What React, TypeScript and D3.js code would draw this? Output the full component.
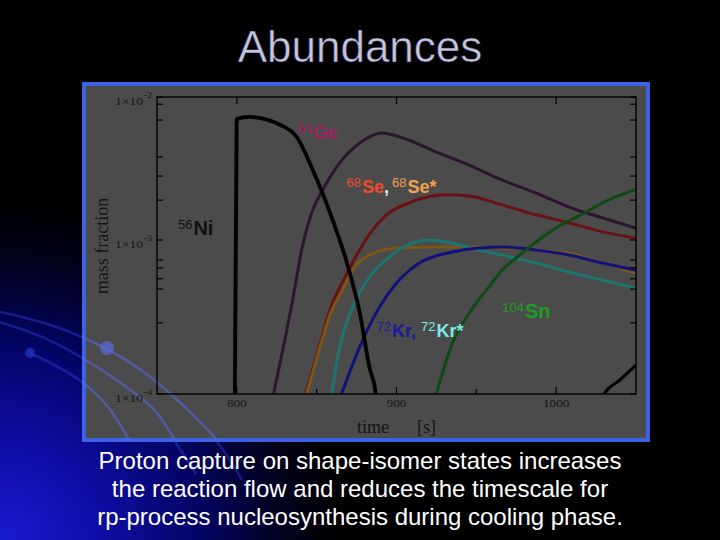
import React from 'react';
import * as d3 from 'd3';

type Pt = [number, number];

// time [s], mass fraction
const ge64: Pt[] = [[823, 1e-4], [835, 4.1e-4], [840.6, 8.6e-4], [847.5, 1.62e-3], [853.8, 2.24e-3], [864.4, 3.46e-3], [877, 4.77e-3], [891, 5.6e-3], [904, 5.17e-3], [925, 4.12e-3], [945.6, 3.34e-3], [966, 2.63e-3], [987.5, 2.13e-3], [1008, 1.7e-3], [1029, 1.43e-3], [1050, 1.21e-3]];
const se68: Pt[] = [[843.1, 1e-4], [851.9, 2.08e-4], [859.4, 3.78e-4], [867.5, 5.66e-4], [874.4, 7.76e-4], [881.9, 1.05e-3], [893.8, 1.5e-3], [908, 1.82e-3], [931, 2.07e-3], [945.6, 2.03e-3], [966, 1.76e-3], [987.5, 1.5e-3], [1008, 1.32e-3], [1029, 1.14e-3], [1050, 1.03e-3]];
const se68s: Pt[] = [[843.8, 1e-4], [852.5, 2.08e-4], [858.8, 3.36e-4], [866.3, 4.73e-4], [873.8, 6.68e-4], [878.1, 7.41e-4], [889.4, 8.49e-4], [902, 8.87e-4], [933, 9.0e-4], [966, 8.87e-4], [989, 8.6e-4], [1008, 8.2e-4], [1029, 7.1e-4], [1050, 6.1e-4]];
const kr72s: Pt[] = [[859.4, 1e-4], [864.4, 2.02e-4], [872.5, 3.67e-4], [883.1, 5.75e-4], [895.6, 7.76e-4], [910, 9.57e-4], [920.6, 1.0e-3], [931.3, 9.7e-4], [951.9, 8.61e-4], [987.5, 7.09e-4], [1008, 6.2e-4], [1029, 5.5e-4], [1050, 4.85e-4]];
const kr72: Pt[] = [[865.6, 1e-4], [878.8, 2.24e-4], [889.4, 3.67e-4], [900, 5.26e-4], [914.4, 7.09e-4], [935, 8.36e-4], [951.9, 8.87e-4], [967.5, 9.0e-4], [987.5, 8.61e-4], [1008, 8.0e-4], [1029, 7.09e-4], [1050, 6.35e-4]];
const sn104: Pt[] = [[925, 1e-4], [935, 2.14e-4], [945.6, 3.36e-4], [956.3, 4.73e-4], [966.3, 6.38e-4], [978.8, 8.24e-4], [997.5, 1.17e-3], [1018.8, 1.57e-3], [1028.8, 1.82e-3], [1050, 2.26e-3]];
const ni56: Pt[] = [[798.7, 8e-5], [799.9, 7.0e-3], [808, 7.25e-3], [817.5, 7.0e-3], [827, 6.4e-3], [837.5, 5.25e-3], [847.5, 3.1e-3], [860, 1.38e-3], [868.8, 7.2e-4], [877, 3.36e-4], [883, 1.5e-4], [887, 1e-4], [888, 8e-5]];
const lateBlack: Pt[] = [[1029, 9e-5], [1030, 1e-4], [1039.4, 1.22e-4], [1050, 1.54e-4]];

const seriesData: Pt[][] = [ge64, se68, se68s, kr72s, kr72, sn104, ni56, lateBlack];
const seriesColors = ['#2d1430', '#6a1212', '#7c5618', '#1d7571', '#12127a', '#0f4a14', '#000000', '#000000'];
const seriesWidths = [3, 3, 3, 3, 3, 3, 3.8, 3];

const xMajorTicks = [800, 900, 1000];
const xMinorTicks = [850, 950];
const xTickLabels = ['800', '900', '1000'];
const yMajorTicks = [1e-2, 1e-3, 1e-4];
const yTickExponents = ['-2', '-3', '-4'];
const yMinorTicks = [8.9e-3, 6.9e-3, 3.8e-3, 2.8e-3, 1.9e-3, 7.4e-4, 6.6e-4, 5.6e-4, 4.8e-4, 2.9e-4];

const captionLines = [
  'Proton capture on shape-isomer states increases',
  'the reaction flow and reduces the timescale for',
  'rp-process nucleosynthesis during cooling phase.',
];

const SANS = '"Liberation Sans", Arial, sans-serif';
const SERIF = '"Liberation Serif", "Times New Roman", serif';

export default function App() {
  const x = d3.scaleLinear().domain([750, 1050]).range([157, 636]);
  const y = d3.scaleLog().domain([1e-2, 1e-3, 1e-4]).range([97, 240, 394]);
  const line = d3.line<Pt>().x(d => x(d[0])).y(d => y(d[1])).curve(d3.curveMonotoneX);
  const [x0, x1] = x.range();
  const yTop = y(1e-2), yBot = y(1e-4);

  const sup = { fontSize: 13, fontWeight: 400 as const };
  const main = (s: number) => ({ fontSize: s, fontWeight: 700 as const });

  return (
    <svg width={720} height={540} style={{ position: 'absolute', left: 0, top: 0, display: 'block' }}>
      <defs>
        <radialGradient id="bg" gradientUnits="userSpaceOnUse" cx={0} cy={545} r={340}>
          <stop offset="0" stopColor="#1a1ad2" />
          <stop offset="0.3" stopColor="#0d0da6" />
          <stop offset="0.6" stopColor="#040462" />
          <stop offset="0.82" stopColor="#010120" />
          <stop offset="1" stopColor="#000000" />
        </radialGradient>
        <clipPath id="plotclip">
          <rect x={x0} y={yTop} width={x1 - x0} height={yBot - yTop} />
        </clipPath>
      </defs>
      <rect x={0} y={0} width={720} height={540} fill="#000" />
      <rect x={0} y={0} width={720} height={540} fill="url(#bg)" />

      {/* decorative arcs outside */}
      <g fill="none" stroke="#2a3ad0" strokeWidth={2.5} opacity={0.5}>
        <path d="M -5,311 C 30,318 60,327 84,338" />
        <path d="M -5,321 C 30,330 60,344 84,359" />
        <path d="M 30,353 C 50,362 68,372 84,383" />
        <path d="M 217,442 C 225,452 235,468 242,480" />
        <path d="M 175,442 C 182,452 190,464 196,474" />
      </g>
      <circle cx={30} cy={353} r={5} fill="#2030c0" opacity={0.8} />

      <text x={360} y={62} textAnchor="middle" fontFamily={SANS} fontSize={44} fill="#c6c6d6" stroke="#10104a" strokeWidth={0.6}>Abundances</text>

      {/* panel */}
      <rect x={84} y={84} width={564} height={356} fill="#4b4b4b" stroke="#3d63e4" strokeWidth={4} />
      <g fill="none" stroke="#5a68d8" strokeWidth={2.5} opacity={0.6}>
        <path d="M 82,337 C 100,345 125,358 145,373 S 195,415 217,440" />
        <path d="M 82,358 C 100,368 120,382 140,397 S 165,425 175,440" />
        <path d="M 82,382 C 95,392 108,405 116,418 S 126,434 129,440" />
      </g>
      <circle cx={107} cy={348} r={7} fill="#5a68d0" opacity={0.75} />

      {/* curves */}
      <g clipPath="url(#plotclip)" fill="none" strokeLinejoin="round">
        {seriesData.map((s, i) => (
          <path key={i} d={line(s) ?? ''} stroke={seriesColors[i]} strokeWidth={seriesWidths[i]} />
        ))}
      </g>

      {/* axes frame */}
      <rect x={x0} y={yTop} width={x1 - x0} height={yBot - yTop} fill="none" stroke="#000" strokeWidth={1.4} />
      <g stroke="#000" strokeWidth={1.2}>
        {yMajorTicks.concat(yMinorTicks).map((v, i) => (
          <g key={i}>
            <line x1={x0} x2={x0 + 6} y1={y(v)} y2={y(v)} />
            <line x1={x1} x2={x1 - 6} y1={y(v)} y2={y(v)} />
          </g>
        ))}
        {xMajorTicks.map((t, i) => (
          <g key={i}>
            <line x1={x(t)} x2={x(t)} y1={yBot} y2={yBot - 7} />
            <line x1={x(t)} x2={x(t)} y1={yTop} y2={yTop + 7} />
          </g>
        ))}
        {xMinorTicks.map((t, i) => (
          <line key={i} x1={x(t)} x2={x(t)} y1={yBot} y2={yBot - 5} />
        ))}
      </g>

      {/* tick labels */}
      <g fontFamily={SERIF} fill="#151515">
        {yMajorTicks.map((v, i) => (
          <g key={i}>
            <text x={115} y={y(v) + 8} fontSize={11} textLength={28} lengthAdjust="spacingAndGlyphs">1×10</text>
            <text x={144} y={y(v) + 1} fontSize={8} textLength={8} lengthAdjust="spacingAndGlyphs">{yTickExponents[i]}</text>
          </g>
        ))}
        {xMajorTicks.map((t, i) => (
          <text key={i} x={x(t)} y={yBot + 13} fontSize={10.5} textAnchor="middle" textLength={xTickLabels[i].length * 6.6} lengthAdjust="spacingAndGlyphs">{xTickLabels[i]}</text>
        ))}
        <text x={357} y={433} fontSize={18}>time</text>
        <text x={417} y={433} fontSize={18}>[s]</text>
        <text transform="translate(108,246) rotate(-90)" textAnchor="middle" fontSize={18}>mass fraction</text>
      </g>

      {/* nuclide labels */}
      <g fontFamily={SANS}>
        <text x={x(838.1)} y={y(5.08e-3)}>
          <tspan {...sup} dy={-6} fill="#a3205f">64</tspan>
          <tspan {...main(18)} dy={6} dx={1} fill="#a3205f">Ge</tspan>
        </text>
        <text x={x(868.75)} y={y(2.13e-3)}>
          <tspan {...sup} dy={-6} fill="#ee4b2b">68</tspan>
          <tspan {...main(18)} dy={6} dx={1} fill="#ee4b2b">Se</tspan>
          <tspan {...main(18)} fill="#e8e8e8">,</tspan>
          <tspan {...sup} dx={3} dy={-6} fill="#f0a050">68</tspan>
          <tspan {...main(18)} dy={6} dx={1} fill="#f0a050">Se*</tspan>
        </text>
        <text x={x(763.1)} y={y(1.08e-3)}>
          <tspan {...sup} dy={-6} fill="#111">56</tspan>
          <tspan {...main(20)} dy={6} dx={1} fill="#111">Ni</tspan>
        </text>
        <text x={x(887.5)} y={y(2.34e-4)}>
          <tspan {...sup} dy={-6} fill="#1c1ca0">72</tspan>
          <tspan {...main(18)} dy={6} dx={1} fill="#1c1ca0">Kr,</tspan>
          <tspan {...sup} dx={5} dy={-6} fill="#80e8e8">72</tspan>
          <tspan {...main(18)} dy={6} dx={1} fill="#80e8e8">Kr*</tspan>
        </text>
        <text x={x(966.25)} y={y(3.12e-4)}>
          <tspan {...sup} dy={-6} fill="#1e9e1e">104</tspan>
          <tspan {...main(20)} dy={6} dx={1} fill="#1e9e1e">Sn</tspan>
        </text>
      </g>

      {/* caption */}
      <g fontFamily={SANS} fontSize={24} fill="#ffffff" textAnchor="middle">
        {captionLines.map((l, i) => (
          <text key={i} x={360} y={469 + i * 28}>{l}</text>
        ))}
      </g>
    </svg>
  );
}
